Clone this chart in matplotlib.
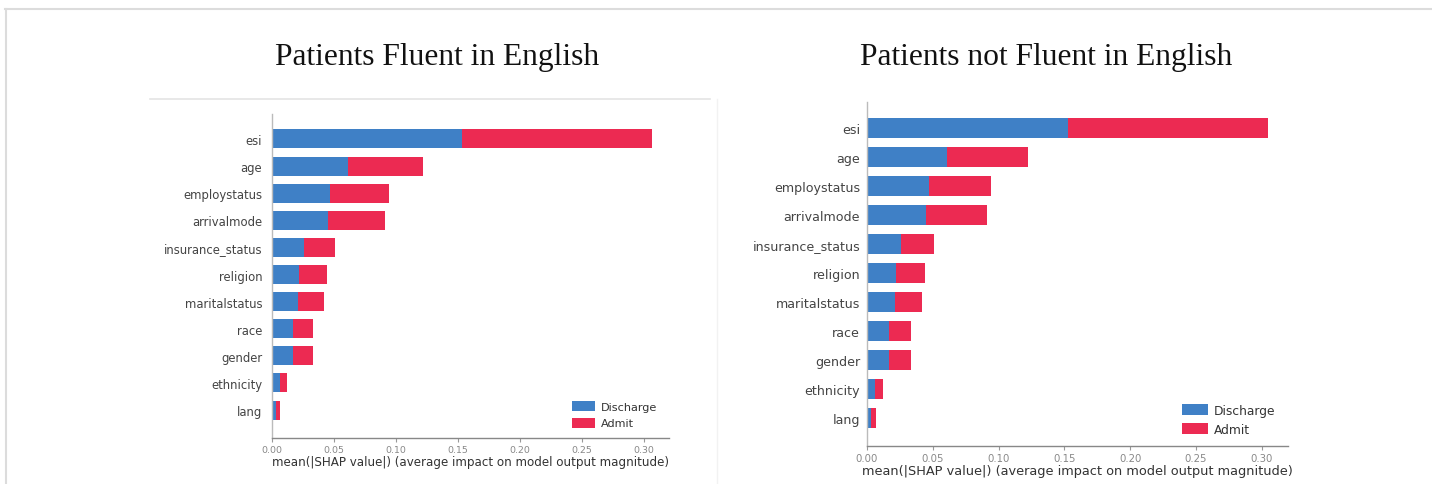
import matplotlib
matplotlib.use("Agg")
import matplotlib.pyplot as plt
from matplotlib.lines import Line2D
import numpy as np

# Mean |SHAP| per feature, split by output class
features = ["esi", "age", "employstatus", "arrivalmode", "insurance_status",
            "religion", "maritalstatus", "race", "gender", "ethnicity", "lang"]
discharge_fluent = [0.153, 0.061, 0.047, 0.045, 0.0255, 0.022, 0.021, 0.0167, 0.0167, 0.0062, 0.0033]
admit_fluent = [0.153, 0.061, 0.047, 0.046, 0.0255, 0.022, 0.021, 0.0167, 0.0167, 0.0062, 0.0032]
discharge_not_fluent = [0.153, 0.061, 0.047, 0.045, 0.0255, 0.022, 0.021, 0.0167, 0.0167, 0.0062, 0.0033]
admit_not_fluent = [0.152, 0.061, 0.047, 0.046, 0.0255, 0.022, 0.021, 0.0167, 0.0167, 0.0062, 0.0032]
class_names = ["Discharge", "Admit"]
x_ticks = [0.00, 0.05, 0.10, 0.15, 0.20, 0.25, 0.30]
titles = ["Patients Fluent in English", "Patients not Fluent in English"]

BLUE = "#3f80c6"
RED = "#ec2a52"
W, H = 1432, 485

fig = plt.figure(figsize=(W / 100, H / 100), dpi=100)
fig.patch.set_facecolor("white")


def px_axes(x0, x1, ytop, ybot):
    return fig.add_axes([x0 / W, (H - ybot) / H, (x1 - x0) / W, (ybot - ytop) / H])


def shap_bar(ax, disc, adm, fs, ylim, ypad):
    n = len(features)
    ypos = np.arange(n)[::-1]
    ax.barh(ypos, disc, height=0.7, color=BLUE, label=class_names[0])
    ax.barh(ypos, adm, left=disc, height=0.7, color=RED, label=class_names[1])
    ax.set_yticks(ypos)
    ax.set_yticklabels(features, fontsize=fs, color="#444444")
    ax.set_xticks(x_ticks)
    ax.set_xticklabels([f"{t:.2f}" for t in x_ticks], fontsize=fs * 0.8, color="#888888")
    ax.set_xlim(0, 0.32)
    ax.set_ylim(*ylim)
    ax.tick_params(axis="y", length=0, pad=ypad)
    ax.tick_params(axis="x", length=3, width=0.8, color="#999999", pad=2)
    for s in ("top", "right"):
        ax.spines[s].set_visible(False)
    ax.spines["left"].set_color("#bbbbbb")
    ax.spines["bottom"].set_color("#888888")
    ax.spines["left"].set_linewidth(1.0)
    ax.spines["bottom"].set_linewidth(1.0)
    ax.set_xlabel("mean(|SHAP value|) (average impact on model output magnitude)",
                  fontsize=fs * 1.02, color="#333333", labelpad=1)
    leg = ax.legend(loc="lower right", bbox_to_anchor=(0.985, 0.012), frameon=False,
                    fontsize=fs * 0.97, handlelength=2.1, handleheight=1.0,
                    labelspacing=0.5, borderpad=0, handletextpad=0.5)
    for t in leg.get_texts():
        t.set_color("#333333")
    return ax


ax1 = px_axes(272, 669, 115, 439)
shap_bar(ax1, discharge_fluent, admit_fluent, 8.4, (-1.03, 10.92), 7)

ax2 = px_axes(867, 1288, 103, 447)
shap_bar(ax2, discharge_not_fluent, admit_not_fluent, 9.1, (-0.97, 10.9), 5)

# Panel titles
fig.text(437 / W, 1 - 57 / H, titles[0], ha="center", va="center",
         fontsize=22.7, family="Liberation Serif", color="#111111")
fig.text(1046 / W, 1 - 57 / H, titles[1], ha="center", va="center",
         fontsize=22.7, family="Liberation Serif", color="#111111")

# Page frame and panel separator lines
def fig_line(x0, y0, x1, y1, color, lw):
    fig.add_artist(Line2D([x0 / W, x1 / W], [1 - y0 / H, 1 - y1 / H],
                          transform=fig.transFigure, color=color, linewidth=lw))

fig_line(5, 9.5, W, 9.5, "#dcdcdc", 1.5)
fig_line(5.5, 9.5, 5.5, H, "#dcdcdc", 1.5)
fig_line(150, 100, 710, 100, "#e4e4e4", 1.2)
fig_line(717, 100, 717, H, "#f2f2f2", 1.0)

fig.savefig("out.png", dpi=100, facecolor="white")
